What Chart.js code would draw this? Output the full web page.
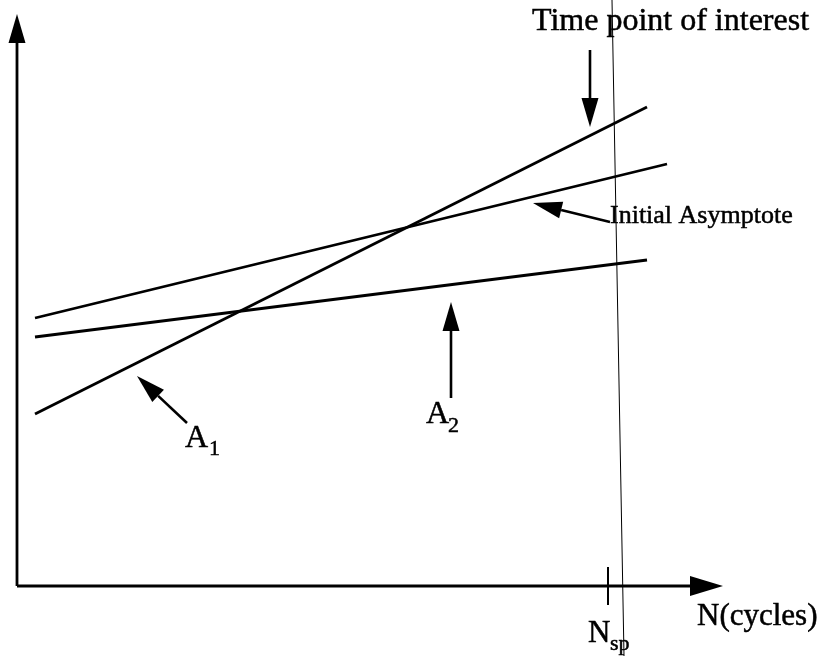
<!DOCTYPE html>
<html>
<head>
<meta charset="utf-8">
<script src="https://cdn.jsdelivr.net/npm/chart.js@4/dist/chart.umd.min.js"></script>
<style>
  html, body { margin: 0; padding: 0; background: #fff; }
  canvas { display: block; }
</style>
</head>
<body>
<canvas id="fatigueChart" width="830" height="656"></canvas>
<script>
// Schéma : asymptotes en fonction du nombre de cycles N
// unités arbitraires, origine au croisement des axes

// droites (extrémités gauche / droite)
const cycles = [18, 630];
const lineA1 = [172, 479];
const asymptoteCycles = [18, 650];
const lineAsymptote = [268, 422];
const lineA2 = [249, 326];

// N_sp : repère sur l'axe et droite verticale du point d'intérêt
const nspTickX = [591, 591];
const nspTickY = [19, -19];
const nspLineX = [595, 607];
const nspLineY = [586, -70];

// flèches : [x départ, y départ, x arrivée, y arrivée]
const axisArrows = [
    [0, 0, 0, 572],
    [0, 0, 706, 0]
];
const pointerArrows = [
    [573, 536, 573, 459],   // Time point of interest
    [593, 364, 516, 383],   // Initial Asymptote
    [170, 163, 120, 210],   // A1
    [434, 188, 434, 284]    // A2
];

function segment(xs, ys) {
    return xs.map((x, i) => ({ x: x, y: ys[i] }));
}

const serif = '"Liberation Serif", "Times New Roman", serif';

// textes et indices
const labels = [
    { text: 'Time point of interest', x: 515, y: 556, size: 32 },
    { text: 'Initial Asymptote', x: 593, y: 363, size: 26 },
    { text: 'A', x: 168, y: 139, size: 32 },
    { text: '1', x: 192, y: 131, size: 22 },
    { text: 'A', x: 409, y: 163, size: 32 },
    { text: '2', x: 431, y: 154, size: 22 },
    { text: 'N(cycles)', x: 680, y: -39, size: 31 },
    { text: 'N', x: 571, y: -56, size: 31 },
    { text: 'sp', x: 593, y: -64, size: 22 }
];

function drawArrow(ctx, xs, ys, a, headLen, halfW, width) {
    const x1 = xs.getPixelForValue(a[0]);
    const y1 = ys.getPixelForValue(a[1]);
    const x2 = xs.getPixelForValue(a[2]);
    const y2 = ys.getPixelForValue(a[3]);
    const ang = Math.atan2(y2 - y1, x2 - x1);
    const bx = x2 - headLen * Math.cos(ang);
    const by = y2 - headLen * Math.sin(ang);

    ctx.beginPath();
    ctx.moveTo(x1, y1);
    ctx.lineTo(bx, by);
    ctx.lineWidth = width;
    ctx.stroke();

    ctx.beginPath();
    ctx.moveTo(x2, y2);
    ctx.lineTo(bx + halfW * Math.sin(ang), by - halfW * Math.cos(ang));
    ctx.lineTo(bx - halfW * Math.sin(ang), by + halfW * Math.cos(ang));
    ctx.closePath();
    ctx.fill();
}

const schemaPlugin = {
    id: 'schema',
    afterDatasetsDraw(chart) {
        const ctx = chart.ctx;
        const xs = chart.scales.x;
        const ys = chart.scales.y;
        ctx.save();
        ctx.strokeStyle = '#000';
        ctx.fillStyle = '#000';
        ctx.lineCap = 'butt';

        drawArrow(ctx, xs, ys, axisArrows[0], 29, 8.5, 2.8);
        drawArrow(ctx, xs, ys, axisArrows[1], 33, 10, 2.8);
        pointerArrows.forEach(a => drawArrow(ctx, xs, ys, a, 29, 8.5, 2.6));

        // texte un peu épaissi, comme sur le scan
        ctx.textBaseline = 'alphabetic';
        ctx.textAlign = 'left';
        ctx.lineWidth = 0.5;
        labels.forEach(l => {
            const px = xs.getPixelForValue(l.x);
            const py = ys.getPixelForValue(l.y);
            ctx.font = l.size + 'px ' + serif;
            ctx.fillText(l.text, px, py);
            ctx.strokeText(l.text, px, py);
        });
        ctx.restore();
    }
};

function createSchemaChart() {
    const ctx = document.getElementById('fatigueChart').getContext('2d');

    const lineStyle = {
        borderColor: '#000',
        borderWidth: 2.8,
        pointRadius: 0,
        showLine: true,
        fill: false
    };

    new Chart(ctx, {
        type: 'scatter',
        data: {
            datasets: [
                Object.assign({ label: 'A1', data: segment(cycles, lineA1) }, lineStyle),
                Object.assign({ label: 'Initial Asymptote', data: segment(asymptoteCycles, lineAsymptote) }, lineStyle),
                Object.assign({ label: 'A2', data: segment(cycles, lineA2) }, lineStyle),
                Object.assign({ label: 'Nsp tick', data: segment(nspTickX, nspTickY) }, lineStyle, { borderWidth: 2 }),
                Object.assign({ label: 'Nsp', data: segment(nspLineX, nspLineY) }, lineStyle, { borderWidth: 1 })
            ]
        },
        options: {
            responsive: false,
            animation: false,
            layout: { padding: 0 },
            plugins: {
                legend: { display: false },
                tooltip: { enabled: false }
            },
            scales: {
                x: { type: 'linear', min: -17, max: 813, display: false },
                y: { type: 'linear', min: -70, max: 586, display: false }
            }
        },
        plugins: [schemaPlugin]
    });
}

document.addEventListener('DOMContentLoaded', createSchemaChart);
</script>
</body>
</html>
